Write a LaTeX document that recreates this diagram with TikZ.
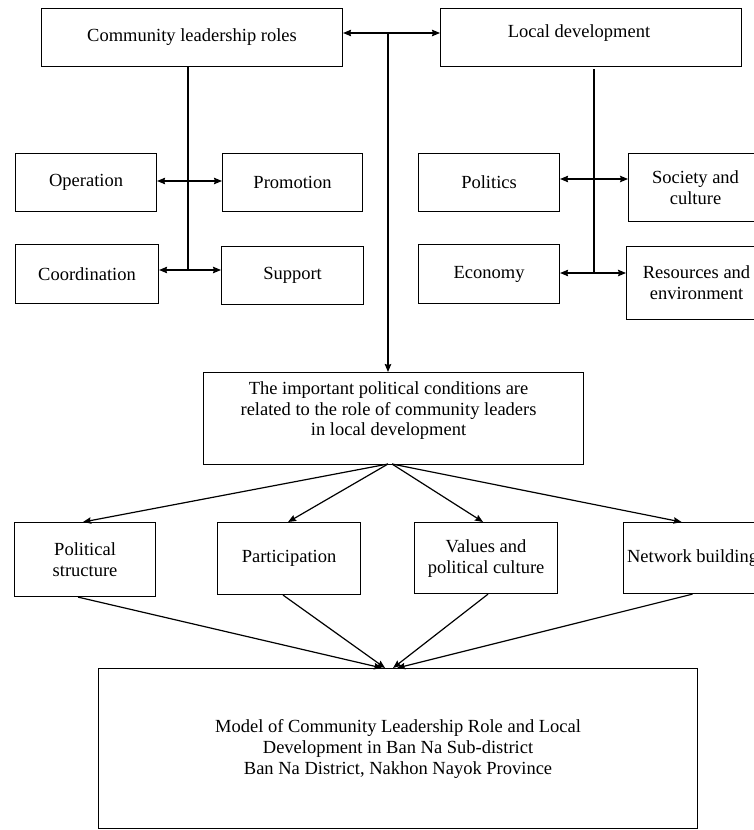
\documentclass[tikz,border=0pt]{standalone}
\usepackage{fontspec}
\setmainfont{Liberation Serif}
\usetikzlibrary{arrows.meta,calc}
\begin{document}
\begin{tikzpicture}[x=1pt,y=-1pt,
  box/.style={draw, line width=1.1pt, inner sep=0pt, align=center, anchor=north west,
    font=\fontsize{18.5}{21}\selectfont},
  conn/.style={line width=1.2pt},
  arr/.style={conn, -{Stealth[length=8pt,width=6.5pt,inset=1pt]}},
  darr/.style={conn, {Stealth[length=8pt,width=6.5pt,inset=1pt]}-{Stealth[length=8pt,width=6.5pt,inset=1pt]}}]
\useasboundingbox (0,0) rectangle (754,830);
\clip (0,0) rectangle (754,830);
% boxes
\node[box, minimum width=301pt, minimum height=58pt] (clr) at (41,8) {Community leadership roles};
\node[box, minimum width=301pt, minimum height=58pt,
  label={[font=\fontsize{18.5}{21}\selectfont, xshift=-12pt, yshift=5pt]center:Local development}] (ld) at (440,8) {};
\node[box, minimum width=141pt, minimum height=58pt] (op) at (15,153) {Operation};
\node[box, minimum width=140pt, minimum height=58pt] (pro) at (222,153) {Promotion};
\node[box, minimum width=143pt, minimum height=59pt] (coo) at (15,244) {Coordination};
\node[box, minimum width=142pt, minimum height=58pt] (sup) at (221,246) {Support};
\node[box, minimum width=141pt, minimum height=58pt] (pol) at (418,153) {Politics};
\node[box, minimum width=134pt, minimum height=68pt] (soc) at (628,153) {Society and\\culture};
\node[box, minimum width=141pt, minimum height=59pt] (eco) at (418,244) {Economy};
\node[box, minimum width=140pt, minimum height=73pt] (res) at (626,246) {Resources and\\environment};
\node[box, minimum width=380pt, minimum height=92pt,
  label={[align=center, font=\fontsize{18.5}{20.5}\selectfont, xshift=-5pt, yshift=8pt]center:The important political conditions are\\related to the role of community leaders\\in local development}] (mid) at (203,372) {};
\node[box, minimum width=141pt, minimum height=74pt] (ps) at (14,522) {Political\\structure};
\node[box, minimum width=143pt, minimum height=72pt] (par) at (217,522) {Participation};
\node[box, minimum width=143pt, minimum height=71pt] (val) at (414,522) {Values and\\political culture};
\node[box, minimum width=138pt, minimum height=71pt] (net) at (623,522) {Network building};
\node[box, minimum width=599pt, minimum height=160pt] (bot) at (98,668) {Model of Community Leadership Role and Local\\Development in Ban Na Sub-district\\Ban Na District, Nakhon Nayok Province};
% coordinates
\coordinate (hub) at (388,33);
\coordinate (c1) at (188,181);
\coordinate (c2) at (188,270);
\coordinate (d1) at (594,179);
\coordinate (d2) at (594,273);
\coordinate (m0) at (388,464);
% top connectors
\draw[darr] (clr.east |- hub) -- (ld.west |- hub);
\draw[arr] (hub) -- (mid.north -| hub);
\draw[conn] (clr.south -| c1) -- (c2);
\draw[darr] (op.east |- c1) -- (pro.west |- c1);
\draw[darr] (coo.east |- c2) -- (sup.west |- c2);
\draw[conn] (ld.south -| d1) ++(0,2) -- (d2);
\draw[darr] (pol.east |- d1) -- (soc.west |- d1);
\draw[darr] (eco.east |- d2) -- (res.west |- d2);
% middle to row
\draw[arr] (m0) -- ([xshift=-2pt]ps.north);
\draw[arr] (m0) -- ([xshift=-1pt]par.north);
\draw[arr] ([xshift=4pt]m0) -- ([xshift=-3pt]val.north);
\draw[arr] ([xshift=4pt]m0) -- ([xshift=-11pt]net.north);
% row to bottom
\draw[arr] ([xshift=-7pt]ps.south) -- ([xshift=-16pt]bot.north);
\draw[arr] ([xshift=-6pt]par.south) -- ([xshift=-13pt]bot.north);
\draw[arr] ([xshift=2pt]val.south) -- ([xshift=-5pt]bot.north);
\draw[arr] ([xshift=0pt]net.south) -- ([xshift=-1pt]bot.north);
\end{tikzpicture}
\end{document}
